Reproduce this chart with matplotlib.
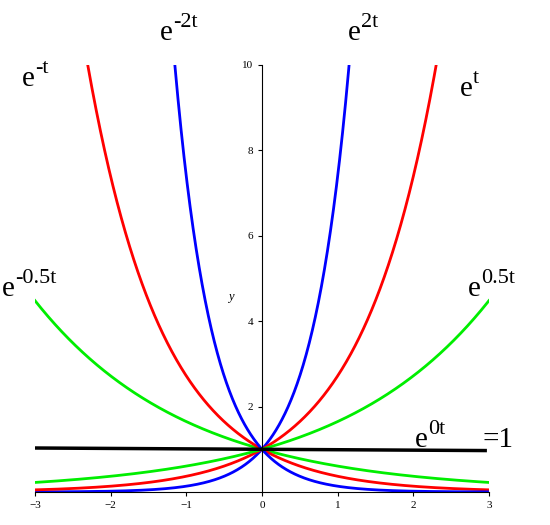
import numpy as np
import matplotlib
matplotlib.use('Agg')
import matplotlib.pyplot as plt

# growth rates k of e^{kt} and their colours
rates = [2, 1, 0.5, -0.5, -1, -2]
colors = ['#0000ff', '#ff0000', '#00ee00', '#00ee00', '#ff0000', '#0000ff']
xticks = [-3, -2, -1, 0, 1, 2, 3]
yticks = [2, 4, 6, 8, 10]

fig = plt.figure(figsize=(5.5, 5.25), dpi=100)
ax = fig.add_axes([0.0636, 0.0629, 0.8254, 0.8133])

t = np.linspace(-3, 3, 1201)
for k, c in zip(rates, colors):
    y = np.exp(k * t)
    y[y > 10] = np.nan
    ax.plot(t, y, color=c, lw=2)
ax.plot([-3, 2.95], [1.03, 0.97], color='black', lw=2.5)

ax.set_xlim(-3, 3)
ax.set_ylim(0, 10)
ax.spines['left'].set_position(('data', 0))
ax.spines['right'].set_visible(False)
ax.spines['top'].set_visible(False)
ax.set_xticks(xticks)
ax.set_yticks(yticks)
ax.tick_params(labelsize=8, length=3)
for lab in ax.get_xticklabels() + ax.get_yticklabels():
    lab.set_family('Liberation Serif')
ax.text(-0.45, 4.5, 'y', fontsize=9, style='italic', family='Liberation Serif')

def lbl(px, py, exp):
    # base "e" with baseline at (px, py), exponent raised to the right
    fig.text(px / 550, 1 - py / 525, 'e', fontsize=21, family='Liberation Serif')
    fig.text((px + 13) / 550, 1 - (py - 13) / 525, exp, fontsize=16,
             family='Liberation Serif')

lbl(22, 86, '-t')
lbl(160, 40, '-2t')
lbl(348, 40, '2t')
lbl(460, 96, 't')
lbl(2, 296, '-0.5t')
lbl(468, 296, '0.5t')
lbl(415, 447, '0t')
fig.text(482 / 550, 1 - 447 / 525, '=1', fontsize=21, family='Liberation Serif')

fig.savefig('out.png', dpi=100)
